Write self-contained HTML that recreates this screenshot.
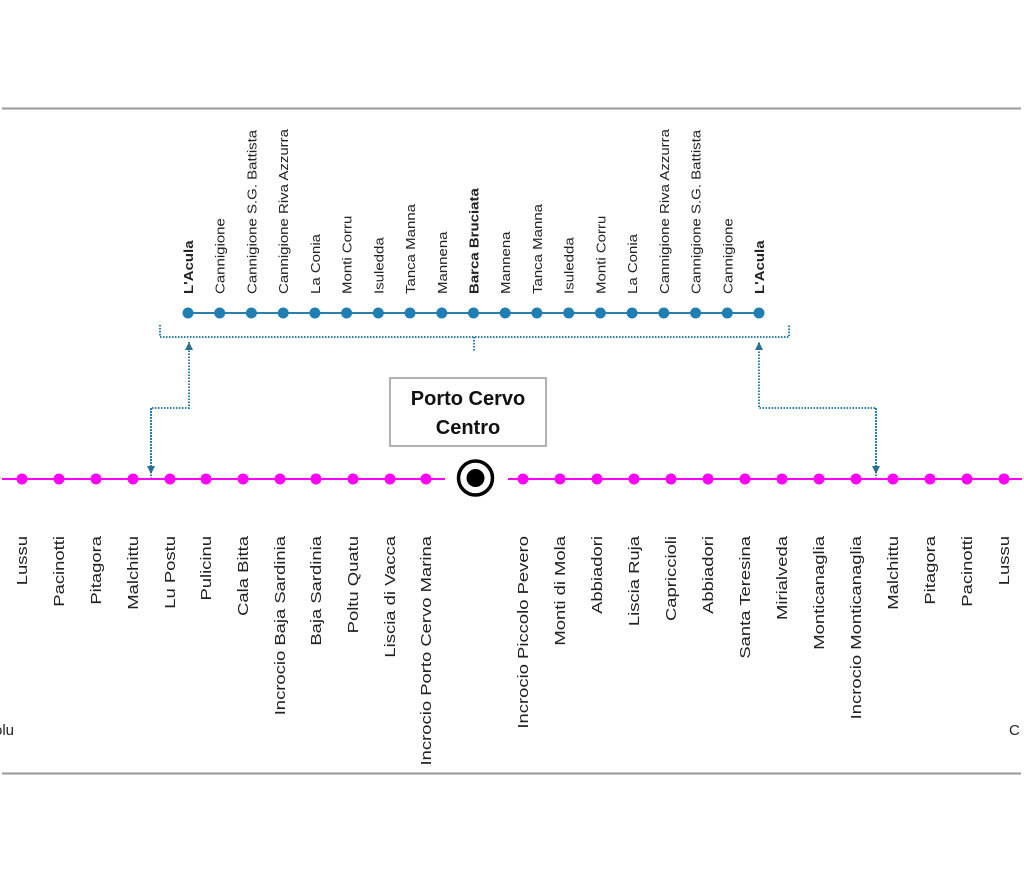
<!DOCTYPE html>
<html><head><meta charset="utf-8"><style>
html,body{margin:0;padding:0;background:#fff;}
svg{display:block;}
text{font-family:"Liberation Sans",sans-serif;}
</style></head><body>
<svg width="1024" height="884" viewBox="0 0 1024 884" xmlns="http://www.w3.org/2000/svg">
<defs>
<marker id="ar" viewBox="0 0 10 10" refX="10" refY="5" markerWidth="4" markerHeight="4" orient="auto"><path d="M0,0 L10,5 L0,10 z" fill="#2a6f8f"/></marker>
</defs>
<line x1="2" y1="108.5" x2="1021" y2="108.5" stroke="#999" stroke-width="2"/>
<line x1="2" y1="773.5" x2="1021" y2="773.5" stroke="#999" stroke-width="2"/>

<line x1="188" y1="313" x2="759" y2="313" stroke="#2a7fa8" stroke-width="2"/>
<g fill="#1f7fb3">
<circle cx="188" cy="313" r="5.5"/><circle cx="219.7" cy="313" r="5.5"/><circle cx="251.4" cy="313" r="5.5"/><circle cx="283.2" cy="313" r="5.5"/><circle cx="314.9" cy="313" r="5.5"/><circle cx="346.6" cy="313" r="5.5"/><circle cx="378.3" cy="313" r="5.5"/><circle cx="410" cy="313" r="5.5"/><circle cx="441.8" cy="313" r="5.5"/><circle cx="473.5" cy="313" r="5.5"/><circle cx="505.2" cy="313" r="5.5"/><circle cx="536.9" cy="313" r="5.5"/><circle cx="568.7" cy="313" r="5.5"/><circle cx="600.4" cy="313" r="5.5"/><circle cx="632.1" cy="313" r="5.5"/><circle cx="663.8" cy="313" r="5.5"/><circle cx="695.6" cy="313" r="5.5"/><circle cx="727.3" cy="313" r="5.5"/><circle cx="759" cy="313" r="5.5"/>
</g>
<g font-size="12.5" fill="#222">
<text transform="translate(193,294) rotate(-90) scale(1.2,1)" font-weight="bold">L'Acula</text>
<text transform="translate(224.7,294) rotate(-90) scale(1.2,1)">Cannigione</text>
<text transform="translate(256.4,294) rotate(-90) scale(1.2,1)">Cannigione S.G. Battista</text>
<text transform="translate(288.2,294) rotate(-90) scale(1.2,1)">Cannigione Riva Azzurra</text>
<text transform="translate(319.9,294) rotate(-90) scale(1.2,1)">La Conia</text>
<text transform="translate(351.6,294) rotate(-90) scale(1.2,1)">Monti Corru</text>
<text transform="translate(383.3,294) rotate(-90) scale(1.2,1)">Isuledda</text>
<text transform="translate(415,294) rotate(-90) scale(1.2,1)">Tanca Manna</text>
<text transform="translate(446.8,294) rotate(-90) scale(1.2,1)">Mannena</text>
<text transform="translate(478.5,294) rotate(-90) scale(1.2,1)" font-weight="bold">Barca Bruciata</text>
<text transform="translate(510.2,294) rotate(-90) scale(1.2,1)">Mannena</text>
<text transform="translate(541.9,294) rotate(-90) scale(1.2,1)">Tanca Manna</text>
<text transform="translate(573.7,294) rotate(-90) scale(1.2,1)">Isuledda</text>
<text transform="translate(605.4,294) rotate(-90) scale(1.2,1)">Monti Corru</text>
<text transform="translate(637.1,294) rotate(-90) scale(1.2,1)">La Conia</text>
<text transform="translate(668.8,294) rotate(-90) scale(1.2,1)">Cannigione Riva Azzurra</text>
<text transform="translate(700.6,294) rotate(-90) scale(1.2,1)">Cannigione S.G. Battista</text>
<text transform="translate(732.3,294) rotate(-90) scale(1.2,1)">Cannigione</text>
<text transform="translate(764,294) rotate(-90) scale(1.2,1)" font-weight="bold">L'Acula</text>
</g>

<g fill="none" stroke="#2a7fa8" stroke-width="2" stroke-dasharray="1.5 1.5">
<path d="M160,325 V337 H789 V325"/>
<path d="M474,337 V351"/>
<path d="M151,479 V408 H189 V342" marker-end="url(#ar)"/>
<path d="M876,479 V408 H759 V342" marker-end="url(#ar)"/>
<path d="M151,408 V474" marker-end="url(#ar)"/>
<path d="M876,408 V474" marker-end="url(#ar)"/>
</g>

<rect x="390" y="378" width="156" height="68" fill="#fff" stroke="#999" stroke-width="1.5"/>
<text x="468" y="405" font-size="20" font-weight="bold" text-anchor="middle" fill="#111">Porto Cervo</text>
<text x="468" y="434" font-size="20" font-weight="bold" text-anchor="middle" fill="#111">Centro</text>

<circle cx="475.5" cy="478" r="17" fill="#fff" stroke="#000" stroke-width="3.5"/>
<circle cx="475.5" cy="478" r="9" fill="#000"/>

<line x1="2" y1="479" x2="445" y2="479" stroke="#ff00ff" stroke-width="2"/>
<line x1="508" y1="479" x2="1022" y2="479" stroke="#ff00ff" stroke-width="2"/>
<g fill="#ff00ff">
<circle cx="22" cy="479" r="5.5"/><circle cx="59" cy="479" r="5.5"/><circle cx="96" cy="479" r="5.5"/><circle cx="133" cy="479" r="5.5"/><circle cx="170" cy="479" r="5.5"/><circle cx="206" cy="479" r="5.5"/><circle cx="243" cy="479" r="5.5"/><circle cx="280" cy="479" r="5.5"/><circle cx="316" cy="479" r="5.5"/><circle cx="353" cy="479" r="5.5"/><circle cx="390" cy="479" r="5.5"/><circle cx="426" cy="479" r="5.5"/>
<circle cx="523" cy="479" r="5.5"/><circle cx="560" cy="479" r="5.5"/><circle cx="597" cy="479" r="5.5"/><circle cx="634" cy="479" r="5.5"/><circle cx="671" cy="479" r="5.5"/><circle cx="708" cy="479" r="5.5"/><circle cx="745" cy="479" r="5.5"/><circle cx="782" cy="479" r="5.5"/><circle cx="819" cy="479" r="5.5"/><circle cx="856" cy="479" r="5.5"/><circle cx="893" cy="479" r="5.5"/><circle cx="930" cy="479" r="5.5"/><circle cx="967" cy="479" r="5.5"/><circle cx="1004" cy="479" r="5.5"/>
</g>
<g font-size="15" fill="#222" text-anchor="end">
<text transform="translate(27,536) rotate(-90) scale(1.23,1)">Lussu</text>
<text transform="translate(64,536) rotate(-90) scale(1.23,1)">Pacinotti</text>
<text transform="translate(101,536) rotate(-90) scale(1.23,1)">Pitagora</text>
<text transform="translate(138,536) rotate(-90) scale(1.23,1)">Malchittu</text>
<text transform="translate(175,536) rotate(-90) scale(1.23,1)">Lu Postu</text>
<text transform="translate(211,536) rotate(-90) scale(1.23,1)">Pulicinu</text>
<text transform="translate(248,536) rotate(-90) scale(1.23,1)">Cala Bitta</text>
<text transform="translate(285,536) rotate(-90) scale(1.23,1)">Incrocio Baja Sardinia</text>
<text transform="translate(321,536) rotate(-90) scale(1.23,1)">Baja Sardinia</text>
<text transform="translate(358,536) rotate(-90) scale(1.23,1)">Poltu Quatu</text>
<text transform="translate(395,536) rotate(-90) scale(1.23,1)">Liscia di Vacca</text>
<text transform="translate(431,536) rotate(-90) scale(1.23,1)">Incrocio Porto Cervo Marina</text>
<text transform="translate(528,536) rotate(-90) scale(1.23,1)">Incrocio Piccolo Pevero</text>
<text transform="translate(565,536) rotate(-90) scale(1.23,1)">Monti di Mola</text>
<text transform="translate(602,536) rotate(-90) scale(1.23,1)">Abbiadori</text>
<text transform="translate(639,536) rotate(-90) scale(1.23,1)">Liscia Ruja</text>
<text transform="translate(676,536) rotate(-90) scale(1.23,1)">Capriccioli</text>
<text transform="translate(713,536) rotate(-90) scale(1.23,1)">Abbiadori</text>
<text transform="translate(750,536) rotate(-90) scale(1.23,1)">Santa Teresina</text>
<text transform="translate(787,536) rotate(-90) scale(1.23,1)">Mirialveda</text>
<text transform="translate(824,536) rotate(-90) scale(1.23,1)">Monticanaglia</text>
<text transform="translate(861,536) rotate(-90) scale(1.23,1)">Incrocio Monticanaglia</text>
<text transform="translate(898,536) rotate(-90) scale(1.23,1)">Malchittu</text>
<text transform="translate(935,536) rotate(-90) scale(1.23,1)">Pitagora</text>
<text transform="translate(972,536) rotate(-90) scale(1.23,1)">Pacinotti</text>
<text transform="translate(1009,536) rotate(-90) scale(1.23,1)">Lussu</text>
</g>
<text x="-6" y="735" font-size="15" fill="#222">olu</text>
<text x="1009" y="735" font-size="15" fill="#222">C</text>
</svg>
</body></html>
